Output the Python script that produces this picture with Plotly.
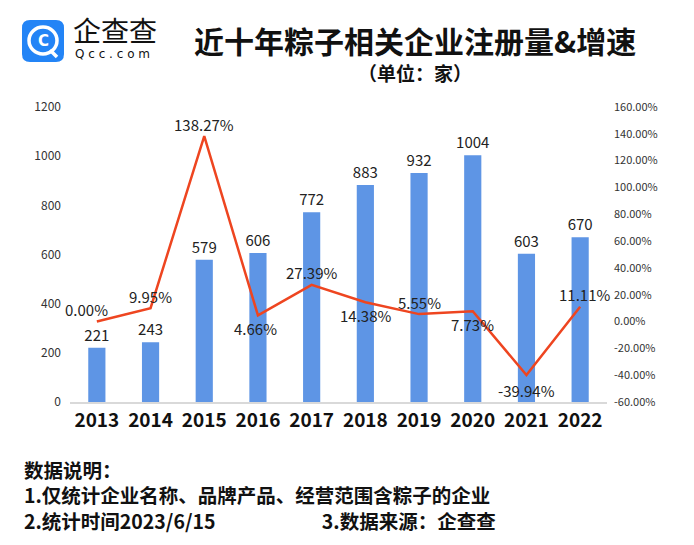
import plotly.graph_objects as go

years = ["2013", "2014", "2015", "2016", "2017", "2018", "2019", "2020", "2021", "2022"]
counts = [221, 243, 579, 606, 772, 883, 932, 1004, 603, 670]
growth = [0.00, 9.95, 138.27, 4.66, 27.39, 14.38, 5.55, 7.73, -39.94, 11.11]
growth_labels = ["0.00%", "9.95%", "138.27%", "4.66%", "27.39%", "14.38%", "5.55%", "7.73%", "-39.94%", "11.11%"]
left_ticks = [0, 200, 400, 600, 800, 1000, 1200]
right_ticks = [-60, -40, -20, 0, 20, 40, 60, 80, 100, 120, 140, 160]
footer_lines = [
    "数据说明：",
    "1.仅统计企业名称、品牌产品、经营范围含粽子的企业",
    "2.统计时间2023/6/15" + "\u3000" * 5 + "\u00a0\u00a0" + "3.数据来源：企查查",
]

# label offsets (pixels) for growth labels
label_dx = [-10, 0, 0, -2, 0, 0, 0, 0, 0, 4]
label_dy = [12, 12, 12, -13, 12, -13, 12, -13, -15, 12]

BAR = "#5E95E5"
LINE = "#EE4520"
FONT = "Noto Sans CJK SC"

W, H = 694, 545
ml, mr, mt, mb = 70, 87, 107, 143
pw, ph = W - ml - mr, H - mt - mb


def px2paper(x, y):
    return (x - ml) / pw, (H - mb - y) / ph


xpos = list(range(len(years)))

fig = go.Figure()
fig.add_trace(go.Bar(
    x=xpos, y=counts, marker=dict(color=BAR, line=dict(width=0)),
    text=[str(v) for v in counts], textposition="outside", constraintext="none",
    textfont=dict(size=15, color="#222", family=FONT),
    cliponaxis=False, width=0.32, yaxis="y",
))
fig.add_trace(go.Scatter(
    x=xpos, y=growth, mode="lines", line=dict(color=LINE, width=2.5),
    yaxis="y2",
))
for x, y, t, dx, dy in zip(xpos, growth, growth_labels, label_dx, label_dy):
    fig.add_annotation(x=x, y=y, xref="x", yref="y2", text=t, showarrow=False,
                       xshift=dx, yshift=dy, xanchor="center", yanchor="middle",
                       font=dict(size=15, color="#222", family=FONT))


def text_px(t, x, y, size, family=FONT, color="#111", xanchor="center", align="center"):
    a, b = px2paper(x, y)
    fig.add_annotation(x=a, y=b, xref="paper", yref="paper", text=t, showarrow=False,
                       xanchor=xanchor, yanchor="middle", align=align,
                       font=dict(size=size, color=color, family=family))


# title & subtitle
text_px("<b>近十年粽子相关企业注册量&增速</b>", 415, 40, 30)
text_px("<b>（单位：家）</b>", 415, 72, 19)

# footer
text_px("<br>".join("<b>" + t + "</b>" for t in footer_lines), 22, 495, 19.5,
        xanchor="left", align="left")

# logo: blue rounded square
r = 8
x0p, x1p, y0p, y1p = 22, 64, 20, 62


def P(x, y):
    a, b = px2paper(x, y)
    return f"{a},{b}"


path = (f"M {P(x0p + r, y0p)} L {P(x1p - r, y0p)} Q {P(x1p, y0p)} {P(x1p, y0p + r)} "
        f"L {P(x1p, y1p - r)} Q {P(x1p, y1p)} {P(x1p - r, y1p)} L {P(x0p + r, y1p)} "
        f"Q {P(x0p, y1p)} {P(x0p, y1p - r)} L {P(x0p, y0p + r)} Q {P(x0p, y0p)} {P(x0p + r, y0p)} Z")
fig.add_shape(type="path", xref="paper", yref="paper", path=path,
              fillcolor="#2384F6", line=dict(width=0), layer="above")
cx0, cy0 = px2paper(29, 54)
cx1, cy1 = px2paper(57, 27)
fig.add_shape(type="circle", xref="paper", yref="paper", x0=cx0, y0=cy0, x1=cx1, y1=cy1,
              line=dict(color="white", width=3.5), layer="above")
text_px("<b>C</b>", 43, 41, 15, family="DejaVu Sans", color="white")
a0, b0 = px2paper(50, 50)
a1, b1 = px2paper(57, 57)
fig.add_shape(type="line", xref="paper", yref="paper", x0=a0, y0=b0, x1=a1, y1=b1,
              line=dict(color="white", width=3.5), layer="above")
text_px("企查查", 71, 30, 28, xanchor="left")
text_px("Q c c . c o m", 73, 54, 12, family="DejaVu Sans", xanchor="left")

fig.update_layout(
    width=W, height=H, margin=dict(l=ml, r=mr, t=mt, b=mb),
    paper_bgcolor="white", plot_bgcolor="white", showlegend=False,
    xaxis=dict(range=[-0.5, len(years) - 0.5], tickvals=xpos,
               ticktext=["<b>" + y + "</b>" for y in years],
               showgrid=False, zeroline=False, showline=True, linecolor="#D9D9D9", linewidth=2,
               ticks="", tickfont=dict(size=19, color="#111", family=FONT), fixedrange=True),
    yaxis=dict(range=[0, 1200], tickvals=left_ticks, ticktext=[str(v) for v in left_ticks],
               showgrid=False, zeroline=False,
               tickfont=dict(size=12, color="#333", family=FONT), ticks="", ticklabelstandoff=8),
    yaxis2=dict(range=[-60, 160], tickvals=right_ticks,
                ticktext=[f"{v:.2f}%" for v in right_ticks], overlaying="y", side="right",
                showgrid=False, zeroline=False,
                tickfont=dict(size=11, color="#333", family=FONT), ticks="", ticklabelstandoff=6),
)

fig.write_html("out.html", config={"displayModeBar": False},
               post_script="document.body.style.margin='0';")
